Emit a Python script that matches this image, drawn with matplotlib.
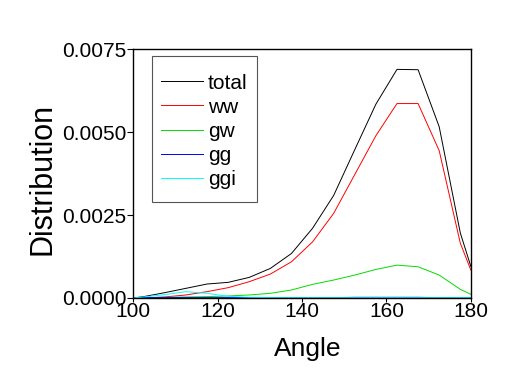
import numpy as np
import matplotlib
matplotlib.use('Agg')
import matplotlib.pyplot as plt
import matplotlib.patches

plt.rcParams['font.family'] = ['Liberation Sans', 'DejaVu Sans']

# Angle bins (degrees)
angle = [100, 102.5, 107.5, 112.5, 117.5, 122.5, 127.5, 132.5, 137.5, 142.5,
         147.5, 152.5, 157.5, 162.5, 167.5, 172.5, 177.5, 180]

total = [0.0, 0.00004, 0.00016, 0.00029, 0.00042, 0.00047, 0.00062, 0.00089, 0.00134, 0.0021,
         0.00309, 0.00447, 0.00584, 0.00689, 0.00688, 0.00516, 0.00196, 0.00095]
ww = [0.0, 0.0, 0.00003, 0.00009, 0.00019, 0.00031, 0.00049, 0.00072, 0.00109, 0.00169,
      0.00255, 0.00372, 0.00489, 0.00586, 0.00586, 0.00444, 0.00165, 0.00084]
gw = [0.0, 0.00001, 0.00002, 0.00003, 0.00004, 0.00006, 0.00009, 0.00014, 0.00024, 0.00041,
      0.00054, 0.00069, 0.00086, 0.00099, 0.00094, 0.00069, 0.00026, 0.00011]
gg = [0.0, 0.00001, 0.00001, 0.00001, 0.00001, 0.00001, 0.00001, 0.00001, 0.00001, 0.00001,
      0.00001, 0.00002, 0.00002, 0.00002, 0.00002, 0.00001, 0.00001, 0.00001]
ggi = [0.0, 0.00003, 0.0001, 0.00019, 0.00014, 0.00005, 0.00002, 0.00001, 0.00001, 0.00001,
       0.00001, 0.00001, 0.00001, 0.00001, 0.00001, 0.00001, 0.00001, 0.00001]

series = [('total', total, 'black'), ('ww', ww, 'red'), ('gw', gw, '#00dd00'),
          ('gg', gg, 'blue'), ('ggi', ggi, 'cyan')]

fig = plt.figure(figsize=(5.18, 3.9), dpi=100)
ax = fig.add_axes([0.257, 0.236, 0.652, 0.638])

for name, vals, col in series:
    ax.plot(angle, vals, color=col, linewidth=0.7, label=name)

ax.set_xlim(100, 180)
ax.set_ylim(0, 0.0075)
ax.set_xticks([100, 120, 140, 160, 180])
ax.set_yticks([0.0, 0.0025, 0.005, 0.0075])
ax.set_yticklabels(['0.0000', '0.0025', '0.0050', '0.0075'])
ax.tick_params(axis='y', direction='out', length=4, width=0.8, labelsize=15, pad=1)
ax.tick_params(axis='x', direction='out', length=3, width=0.8, labelsize=15, pad=0)
for sp in ax.spines.values():
    sp.set_linewidth(1.0)

ax.set_xlabel('Angle', fontsize=19)
ax.set_ylabel('Distribution', fontsize=22)
ax.xaxis.set_label_coords(0.518, -0.155)
ax.yaxis.set_label_coords(-0.223, 0.48)

# legend box drawn separately so it can be taller than the entries need
ax.add_patch(matplotlib.patches.Rectangle((0.056, 0.386), 0.311, 0.586, transform=ax.transAxes,
                                          fill=True, facecolor='white', edgecolor='#555555',
                                          linewidth=0.8, zorder=4))
leg = ax.legend(loc='upper left', bbox_to_anchor=(0.083, 0.902), fontsize=15,
                frameon=False, handlelength=2.0, handletextpad=0.25,
                labelspacing=0.25, borderpad=0, borderaxespad=0)
leg.set_zorder(5)

plt.savefig('out.png', dpi=100)
